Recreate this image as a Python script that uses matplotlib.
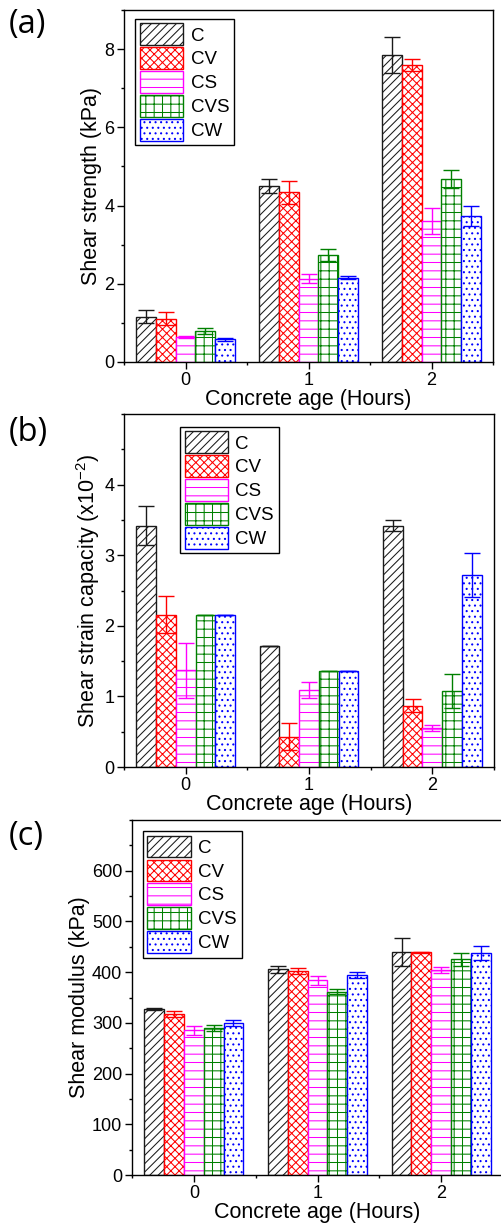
import numpy as np
import matplotlib
matplotlib.use("Agg")
import matplotlib.pyplot as plt
from matplotlib.ticker import MultipleLocator, FixedLocator

plt.rcParams['font.family'] = ['Liberation Sans', 'DejaVu Sans']
plt.rcParams['mathtext.fontset'] = 'custom'
plt.rcParams['mathtext.rm'] = 'Liberation Sans'
plt.rcParams['mathtext.it'] = 'Liberation Sans:italic'
plt.rcParams['mathtext.bf'] = 'Liberation Sans:bold'
plt.rcParams['hatch.linewidth'] = 0.75

ages = [0, 1, 2]
age_labels = ['0', '1', '2']
series = ['C', 'CV', 'CS', 'CVS', 'CW']
colors = ['#1a1a1a', '#ff0000', '#ff00ff', '#008000', '#0000ff']
hatches = ['////', 'xxxx', '--', '++', '...']

# (a) Shear strength (kPa)
strength = {
    'C':   [1.16, 4.50, 7.85],
    'CV':  [1.11, 4.34, 7.59],
    'CS':  [0.645, 2.13, 3.60],
    'CVS': [0.79, 2.73, 4.67],
    'CW':  [0.58, 2.16, 3.73],
}
strength_err = {
    'C':   [0.17, 0.17, 0.45],
    'CV':  [0.16, 0.29, 0.16],
    'CS':  [0.03, 0.12, 0.33],
    'CVS': [0.07, 0.16, 0.23],
    'CW':  [0.04, 0.03, 0.26],
}

# (b) Shear strain capacity (x10^-2)
strain = {
    'C':   [3.42, 1.71, 3.42],
    'CV':  [2.16, 0.43, 0.87],
    'CS':  [1.37, 1.09, 0.55],
    'CVS': [2.16, 1.36, 1.08],
    'CW':  [2.16, 1.36, 2.72],
}
strain_err = {
    'C':   [0.27, 0.0, 0.08],
    'CV':  [0.26, 0.19, 0.09],
    'CS':  [0.39, 0.11, 0.04],
    'CVS': [0.0, 0.0, 0.24],
    'CW':  [0.0, 0.0, 0.31],
}

# (c) Shear modulus (kPa)
modulus = {
    'C':   [327, 405.6, 440.5],
    'CV':  [318, 403, 439],
    'CS':  [285, 384, 404],
    'CVS': [290.6, 361.6, 425],
    'CW':  [299, 394.5, 438.5],
}
modulus_err = {
    'C':   [2, 7, 27.5],
    'CV':  [6, 6, 1],
    'CS':  [9, 9, 6.6],
    'CVS': [6, 5, 12],
    'CW':  [6, 6.5, 14],
}

W, H = 501, 1225
fig = plt.figure(figsize=(W / 100, H / 100), dpi=100)


def axes_px(left, top, right, bottom):
    return fig.add_axes([left / W, 1 - bottom / H, (right - left) / W, (bottom - top) / H])


def draw(ax, data, err, ylim, majors, minor, ylabel, leg_anchor):
    width = 0.16
    x = np.array(ages, dtype=float)
    for i, s in enumerate(series):
        off = (i - 2) * width
        ax.bar(x + off, data[s], width=width, color='white', edgecolor=colors[i],
               hatch=hatches[i], linewidth=1.0, label=s, zorder=2)
        ax.errorbar(x + off, data[s], yerr=err[s], fmt='none', ecolor=colors[i],
                    elinewidth=1.0, capsize=5.5, capthick=1.0, zorder=3)
    ax.set_xlim(-0.5, 2.5)
    ax.set_ylim(*ylim)
    ax.set_xticks(ages)
    ax.set_xticklabels(age_labels)
    ax.xaxis.set_minor_locator(FixedLocator([-0.5, 0.5, 1.5, 2.5]))
    ax.yaxis.set_major_locator(FixedLocator(majors))
    ax.yaxis.set_minor_locator(MultipleLocator(minor))
    ax.tick_params(axis='both', which='major', direction='out', length=5, width=1,
                   labelsize=13, pad=2, top=False, right=False)
    ax.tick_params(axis='both', which='minor', direction='out', length=2.5, width=1,
                   top=False, right=False)
    for sp in ax.spines.values():
        sp.set_linewidth(1.0)
    ax.set_xlabel('Concrete age (Hours)', fontsize=15.5, labelpad=0)
    ax.set_ylabel(ylabel, fontsize=15.5, labelpad=1.5)
    leg = ax.legend(loc='upper left', bbox_to_anchor=leg_anchor, fontsize=13.5,
                    frameon=True, fancybox=False, edgecolor='black', framealpha=1,
                    handlelength=2.3, handleheight=1.41, labelspacing=0.11,
                    handletextpad=0.41, borderpad=0.25, borderaxespad=0)
    leg.get_frame().set_linewidth(1.0)


axa = axes_px(124, 10, 493, 362)
draw(axa, strength, strength_err, (0, 9), [0, 2, 4, 6, 8], 1,
     'Shear strength (kPa)', (0.030, 0.975))

axb = axes_px(124, 414, 494, 767)
draw(axb, strain, strain_err, (0, 5), [0, 1, 2, 3, 4], 0.5,
     r'Shear strain capacity (x10$^{-2}$)', (0.151, 0.964))

axc = axes_px(132, 820, 503, 1175)
draw(axc, modulus, modulus_err, (0, 700), [0, 100, 200, 300, 400, 500, 600], 50,
     'Shear modulus (kPa)', (0.029, 0.969))

for lab, yc in [('(a)', 25), ('(b)', 433), ('(c)', 837)]:
    fig.text(9 / W, 1 - yc / H, lab, fontsize=23.5, family=['Open Sans', 'DejaVu Sans'],
             ha='left', va='center')

fig.savefig('out.png', dpi=100)
